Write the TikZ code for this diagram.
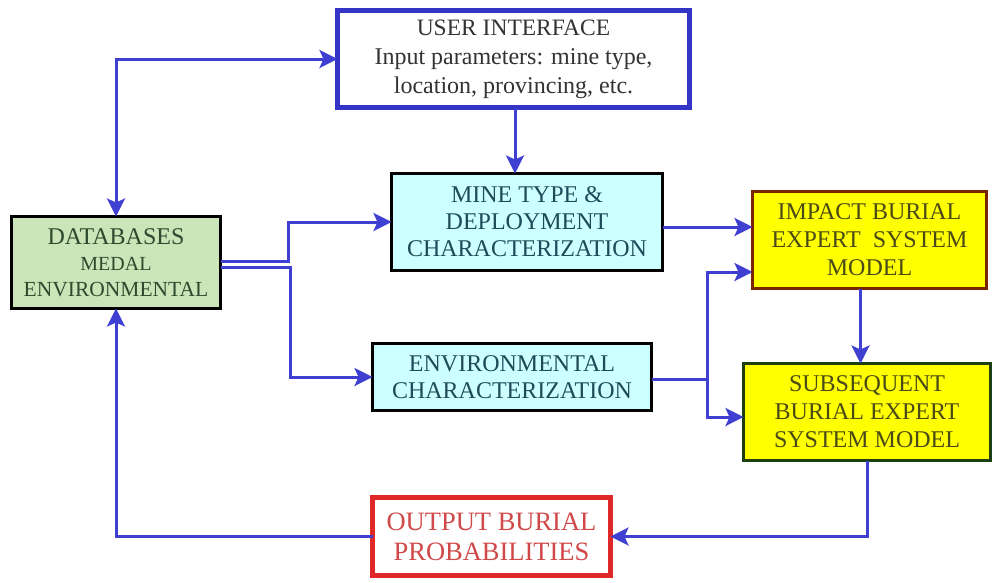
\documentclass[tikz,border=0pt]{standalone}
\usepackage{fontspec}
\setmainfont{Liberation Serif}
\usetikzlibrary{arrows.meta,calc}

\definecolor{flowblue}{HTML}{3F3FD2}
\definecolor{uiblue}{HTML}{3434C6}
\definecolor{cyanfill}{HTML}{CCFFFF}
\definecolor{greenfill}{HTML}{CCE5B8}
\definecolor{yellowfill}{HTML}{FFFF00}
\definecolor{tealtext}{HTML}{1F4A58}
\definecolor{greentext}{HTML}{2E4A2E}
\definecolor{olivetext}{HTML}{4A4A16}
\definecolor{impactedge}{HTML}{7A2400}
\definecolor{subedge}{HTML}{1E4010}
\definecolor{outred}{HTML}{E02828}
\definecolor{outtext}{HTML}{D04848}
\definecolor{uitext}{HTML}{333333}

\tikzset{
  box/.style={rectangle, align=center, inner sep=0pt, outer sep=0pt,
    font=\fontsize{24}{27}\selectfont},
  uibox/.style={box, draw=uiblue, line width=5.5pt, fill=white, text=uitext,
    font=\fontsize{24}{29}\selectfont},
  charbox/.style={box, draw=black, line width=3.5pt, fill=cyanfill, text=tealtext},
  dbbox/.style={box, draw=black, line width=3.5pt, fill=greenfill, text=greentext},
  impactbox/.style={box, draw=impactedge, line width=3pt, fill=yellowfill, text=olivetext,
    font=\fontsize{24}{28}\selectfont},
  subbox/.style={box, draw=subedge, line width=3pt, fill=yellowfill, text=olivetext,
    font=\fontsize{24}{28}\selectfont},
  outbox/.style={box, draw=outred, line width=5pt, fill=white, text=outtext,
    font=\fontsize{26.5}{30}\selectfont},
  flow/.style={draw=flowblue, line width=3pt, -{Stealth[length=18pt,width=18pt,inset=4pt]}},
  flowboth/.style={draw=flowblue, line width=3pt,
    {Stealth[length=18pt,width=18pt,inset=4pt]}-{Stealth[length=18pt,width=18pt,inset=4pt]}},
  plainflow/.style={draw=flowblue, line width=3pt}
}

\begin{document}
\begin{tikzpicture}[x=1pt,y=-1pt]
  \useasboundingbox (0,0) rectangle (996,582);

  % boxes
  \node[uibox, minimum width=352pt, minimum height=97pt] (ui) at (513.5,59)
    {{\fontsize{23.5}{29}\selectfont USER INTERFACE}\\Input parameters: mine type,\\location, provincing, etc.};
  \node[charbox, minimum width=271pt, minimum height=97pt] (mine) at (527,222)
    {MINE TYPE \&\\DEPLOYMENT\\CHARACTERIZATION};
  \node[dbbox, minimum width=209pt, minimum height=92pt] (db) at (116,262.5)
    {{\fontsize{24}{26}\selectfont DATABASES}\\[-1pt]{\fontsize{20}{26}\selectfont MEDAL}\\[-1pt]{\fontsize{21.5}{26}\selectfont ENVIRONMENTAL}};
  \node[impactbox, minimum width=234pt, minimum height=97pt] (impact) at (869.5,240)
    {IMPACT BURIAL\\EXPERT\ \ SYSTEM\\MODEL};
  \node[charbox, minimum width=279pt, minimum height=67pt] (env) at (512,377)
    {ENVIRONMENTAL\\CHARACTERIZATION};
  \node[subbox, minimum width=247pt, minimum height=97pt] (sub) at (867,412)
    {SUBSEQUENT\\BURIAL EXPERT\\SYSTEM MODEL};
  \node[outbox, minimum width=238pt, minimum height=78pt] (out) at (491.5,536.5)
    {OUTPUT BURIAL\\PROBABILITIES};

  % junction points
  \coordinate (splitA) at (288,0);
  \coordinate (splitB) at (290,0);
  \coordinate (dbA) at ([yshift=1pt]db.east);
  \coordinate (dbB) at ([yshift=-5pt]db.east);
  \coordinate (envJ) at (707,379);
  \coordinate (mineOut) at ([yshift=-5pt]mine.east);
  \coordinate (impA) at ([yshift=-32pt]impact.west);
  \coordinate (subA) at ([yshift=-5pt]sub.west);
  \coordinate (impS) at ([xshift=-9pt]impact.south);
  \coordinate (uiS) at (515,0);

  % connectors
  \draw[flowboth] (db.north) |- (ui.west);
  \draw[flow] (uiS |- ui.south) -- (uiS |- mine.north);
  \draw[flow] (dbA) -- (dbA -| splitA) |- (mine.west);
  \draw[flow] (dbB) -- (dbB -| splitB) |- (env.west);
  \draw[flow] (mineOut) -- (mineOut -| impact.west);
  \draw[plainflow] (envJ -| env.east) -- (envJ);
  \draw[flow] (envJ) |- (impA);
  \draw[flow] (envJ) |- (subA);
  \draw[flow] (impS) -- (impS |- sub.north);
  \draw[flow] (sub.south) |- (out.east);
  \draw[flow] (out.west) -| (db.south);
\end{tikzpicture}
\end{document}
